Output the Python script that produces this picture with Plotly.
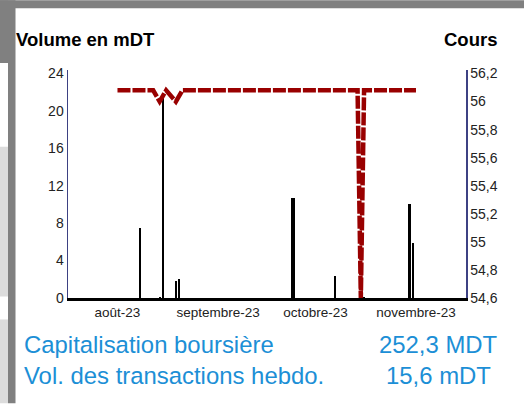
import plotly.graph_objects as go

# ---- data ----
vol_dates = ["2023-08-08", "2023-08-14", "2023-08-15", "2023-08-19", "2023-08-20",
             "2023-09-24", "2023-10-07", "2023-10-16", "2023-10-30", "2023-10-31"]
vol_values = [7.5, 0.15, 21.7, 1.8, 2.0, 10.7, 2.4, 0.15, 10.1, 5.9]

price_dates = ["2023-08-01", "2023-08-12", "2023-08-14", "2023-08-16", "2023-08-19",
               "2023-08-21", "2023-10-14", "2023-10-15", "2023-10-16", "2023-11-01"]
price_values = [56.08, 56.08, 56.0, 56.08, 56.0, 56.08, 56.08, 54.6, 56.08, 56.08]

month_ticks = ["2023-08-01", "2023-09-01", "2023-10-01", "2023-11-01"]
month_labels = ["août-23", "septembre-23", "octobre-23", "novembre-23"]

vol_ticks = [0, 4, 8, 12, 16, 20, 24]
price_ticks = [54.6, 54.8, 55.0, 55.2, 55.4, 55.6, 55.8, 56.0, 56.2]
price_labels = ["54,6", "54,8", "55", "55,2", "55,4", "55,6", "55,8", "56", "56,2"]

info_labels = ["Capitalisation boursière", "Vol. des transactions hebdo."]
info_values = ["252,3 MDT", "15,6 mDT"]

# ---- layout geometry (pixels) ----
W, H = 524, 404
L, R, T, B = 68, 58, 70, 105.5
PW, PH = W - L - R, H - T - B


def px(x):
    return (x - L) / PW


def py(y):
    return (H - B - y) / PH


DAY = 86400000
bar_w = [DAY * (1.25 if d == "2023-09-24" else 0.7) for d in vol_dates]

FONT = "Liberation Sans, Arial, sans-serif"
NAVY = "#3d4183"
RED = "#990000"
BLUE = "#1c8fd6"

fig = go.Figure()
fig.add_trace(go.Bar(x=vol_dates, y=vol_values, width=bar_w,
                     marker=dict(color="black", line=dict(width=0)),
                     yaxis="y", showlegend=False, hoverinfo="skip"))
fig.add_trace(go.Scatter(x=price_dates, y=price_values, mode="lines",
                         line=dict(color=RED, width=4.5, dash="13px,2px"),
                         yaxis="y2", showlegend=False, hoverinfo="skip"))

fig.update_layout(
    width=W, height=H,
    margin=dict(l=L, r=R, t=T, b=B, pad=0),
    paper_bgcolor="white", plot_bgcolor="white",
    font=dict(family=FONT, color="#222222"),
    bargap=0,
    xaxis=dict(type="date", range=["2023-07-16 18:00", "2023-11-16 10:00"],
               tickmode="array", tickvals=month_ticks, ticktext=month_labels,
               tickfont=dict(size=13.5, color="#222222"),
               showgrid=False, zeroline=False, ticks="",
               showline=True, linecolor="black", linewidth=2.5),
    yaxis=dict(range=[0, 24.37], tickmode="array", tickvals=vol_ticks,
               tickfont=dict(size=14, color="#222222"),
               showgrid=False, zeroline=False, ticks="",
               showline=True, linecolor=NAVY, linewidth=1.5),
    yaxis2=dict(range=[54.6, 56.225], overlaying="y", side="right",
                tickmode="array", tickvals=price_ticks, ticktext=price_labels,
                tickfont=dict(size=14, color="#222222"),
                showgrid=False, zeroline=False, ticks="",
                showline=True, linecolor=NAVY, linewidth=1.5),
)

ann = [
    dict(text="<b>Volume en mDT</b>", x=px(14), y=py(39.5), xanchor="left", yanchor="middle",
         font=dict(size=18.5, color="black")),
    dict(text="<b>Cours</b>", x=px(499), y=py(39.5), xanchor="right", yanchor="middle",
         font=dict(size=18.5, color="black")),
]
for i, (lab, val) in enumerate(zip(info_labels, info_values)):
    yy = 345.5 + i * 31
    ann.append(dict(text=lab, x=px(22), y=py(yy), xanchor="left", yanchor="middle",
                    font=dict(size=23.9, color=BLUE)))
    ann.append(dict(text=val, x=px(438.5), y=py(yy), xanchor="center", yanchor="middle",
                    font=dict(size=23.9, color=BLUE)))
for a in ann:
    a.update(xref="paper", yref="paper", showarrow=False)
fig.update_layout(annotations=ann)

# page frame (gray borders)
GRAY = "#808080"
LIGHT = "#dcdcdc"
shapes = [
    dict(x0=px(0), x1=px(W), y0=py(0), y1=py(8), fillcolor=GRAY),
    dict(x0=px(8), x1=px(15.5), y0=py(0), y1=py(H), fillcolor=GRAY),
    dict(x0=px(0), x1=px(8), y0=py(0), y1=py(63), fillcolor=GRAY),
    dict(x0=px(0), x1=px(8), y0=py(147), y1=py(297), fillcolor=LIGHT),
    dict(x0=px(0), x1=px(8), y0=py(320), y1=py(H), fillcolor=LIGHT),
]
for s in shapes:
    s.update(type="rect", xref="paper", yref="paper", line=dict(width=0), layer="above")
fig.update_layout(shapes=shapes)

fig.write_html("out.html", config={"displayModeBar": False, "staticPlot": True},
               post_script="document.body.style.margin='0';document.body.style.overflow='hidden';")
